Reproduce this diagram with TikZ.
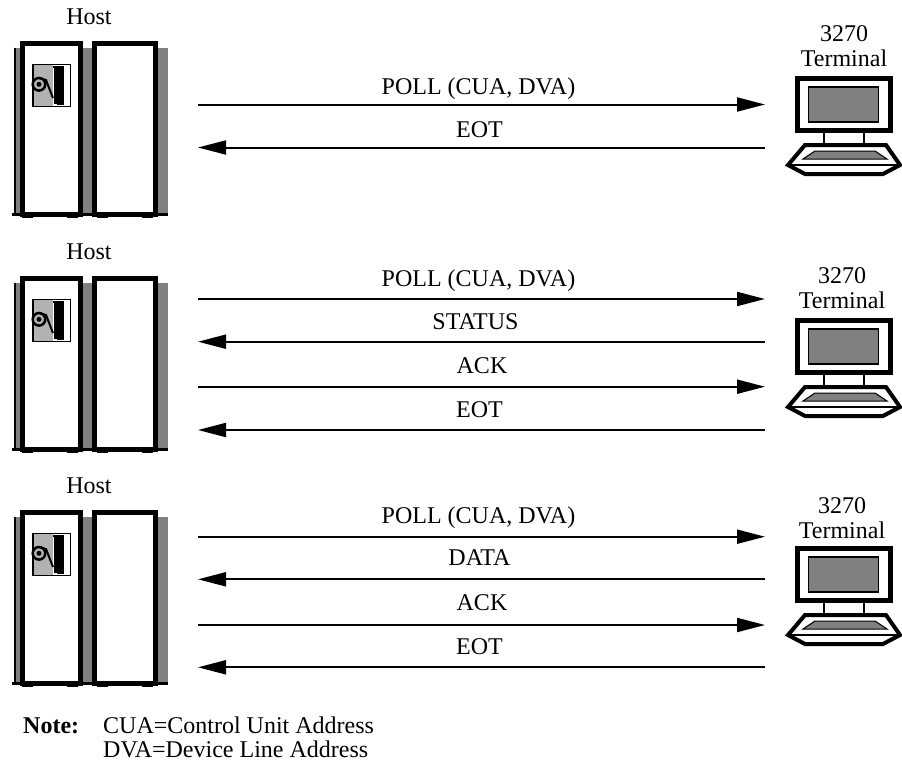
\documentclass[tikz,border=0pt]{standalone}
\usepackage{fontspec}
\setmainfont{Liberation Serif}
\usetikzlibrary{arrows.meta}
\definecolor{cabgray}{gray}{0.5}
\definecolor{pangray}{gray}{0.7}
\tikzset{
	msgline/.style={line width=2pt,>={Triangle[length=28pt,width=14pt]}},
	msglabel/.style={anchor=base,inner sep=0pt},
	thick frame/.style={draw=black,line width=5pt,fill=white},
	host/.pic={
		\fill[cabgray] (14,6.5) rectangle (167.5,173);
		\draw[line width=2pt] (14.5,6.5)--(14.5,173);
		\draw[line width=3pt] (12,173)--(167.5,173);
		\draw[thick frame] (22.5,2.5) rectangle (80.5,173.5);
		\draw[thick frame] (94.5,2.5) rectangle (155.5,173.5);
		\foreach \x in {27.5,72.5,102.5,147.5}\fill (\x-5.5,174) rectangle (\x+5.5,177);
		\draw[line width=1.4pt,fill=white] (33,23.5) rectangle (70.3,65.7);
		\fill[pangray] (33.7,24.2) rectangle (53,65);
		\fill (54,26) rectangle (64,63);
		\draw[line width=1.4pt] (53,26)--(64,26) (57,63.3)--(64,63.3);
		\draw[line width=2.5pt] (39,43.3) circle (6.3);
		\fill (39,43.3) circle (2.5);
		\draw[line width=2pt] (39,37)--(46,39)--(53,57);
	},
	terminal/.pic={
		\draw[thick frame] (797.5,78.5) rectangle (890.5,130.5);
		\draw[line width=1.8pt,fill=cabgray] (808.5,87) rectangle (878.5,122);
		\draw[line width=1.8pt] (824,133)--(824,143) (864,133)--(864,143);
		\draw[line width=4pt,fill=white] (788,165)--(805,145)--(886,145)--(900,165)--(883,174)--(805,174)--cycle;
		\draw[line width=2pt] (788,165)--(900,165);
		\draw[line width=1pt,fill=cabgray] (803,159)--(815,151)--(875,151)--(887,159)--cycle;
	},
}
\begin{document}
\begin{tikzpicture}[x=1pt,y=-1pt,font=\fontsize{24}{25}\selectfont]
	\useasboundingbox (0,0) rectangle (902,763);
	% hosts and terminals
	\foreach \n/\hy/\ty/\ly/\lx/\ny in {1/41/0/17/844/0,2/276/242/252/842/242,3/510/470/486/842/472}{
		\path (0,\hy) pic {host};
		\path (0,\ty) pic {terminal};
		\node[inner sep=0pt] (hostlabel\n) at (89,\ly) {Host};
		\node[inner sep=0pt] (num\n) at (\lx,33.5+\ny) {3270};
		\node[inner sep=0pt] (term\n) at (\lx,58+\ny) {Terminal};
	}
	% messages
	\foreach \n/\y/\d/\t/\dx/\dy in {a/104.5/->/{POLL (CUA, DVA)}/-3/10,b/147.5/<-/EOT/-2/10,
		c/299/->/{POLL (CUA, DVA)}/-3/13,d/341.7/<-/STATUS/-6/12.5,e/386.7/->/ACK/0.5/13,f/430/<-/EOT/-2/13,
		g/536.7/->/{POLL (CUA, DVA)}/-3/13.4,h/579.3/<-/DATA/-2/13.4,i/625/->/ACK/0.5/14.3,j/667.3/<-/EOT/-2/13}{
		\path (198,\y)coordinate(L\n) (765,\y)coordinate(R\n);
		\draw[msgline,\d] (L\n)--node[msglabel,xshift=\dx pt,yshift=\dy pt]{\t}(R\n);
	}
	% note
	\node[inner sep=0pt,anchor=base west] (note) at (23,733.5) {\bfseries Note:};
	\node[inner sep=0pt,anchor=base west] (cua) at (103,733.5) {CUA=Control Unit Address};
	\node[inner sep=0pt,anchor=base west] (dva) at (103,757) {DVA=Device Line Address};
\end{tikzpicture}
\end{document}
